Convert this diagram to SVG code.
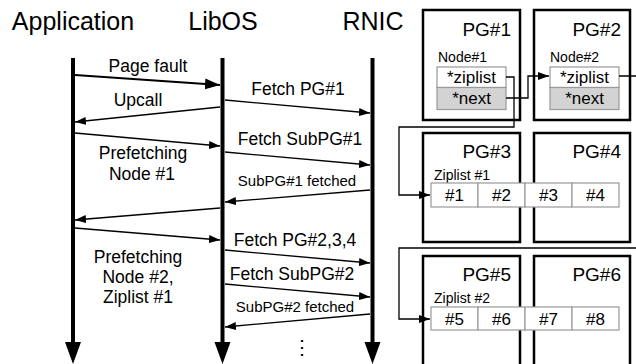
<svg xmlns="http://www.w3.org/2000/svg" width="636" height="364" viewBox="0 0 636 364">
  <style>
    text { font-family: "Liberation Sans", Arial, sans-serif; fill: #000; }
    .hdr { font-size: 25px; text-anchor: middle; }
    .lbl { font-size: 17.5px; text-anchor: middle; }
    .sml { font-size: 15px; text-anchor: middle; }
    .pg { font-size: 19px; text-anchor: end; }
    .cap { font-size: 14px; }
    .cell { font-size: 17px; text-anchor: middle; }
    .life { stroke: #000; stroke-width: 4; fill: none; }
    .msg { stroke: #000; stroke-width: 1.3; fill: none; marker-end: url(#ah); }
    .page { fill: #fff; stroke: #000; stroke-width: 2.5; }
    .box { fill: #fff; stroke: #999; stroke-width: 1.2; }
    .grey { fill: #d3d3d3; stroke: #999; stroke-width: 1.2; }
    .link { stroke: #000; stroke-width: 1.3; fill: none; }
  </style>
  <defs>
    <marker id="ah" markerUnits="userSpaceOnUse" markerWidth="12" markerHeight="10" refX="11" refY="4" orient="auto">
      <path d="M0,0 L11,4 L0,8 Z" fill="#000"/>
    </marker>
    <marker id="ahBig" markerUnits="userSpaceOnUse" markerWidth="16" markerHeight="12" refX="15" refY="5.5" orient="auto">
      <path d="M0,0 L15,5.5 L0,11 Z" fill="#000"/>
    </marker>
  </defs>

  <!-- actors -->
  <g id="application">
    <text class="hdr" x="73" y="30">Application</text>
    <line class="life" x1="73" y1="58" x2="73" y2="345"/>
    <polygon points="65,342 81,342 73,364" fill="#000"/>
  </g>
  <g id="libos">
    <text class="hdr" x="223" y="30">LibOS</text>
    <line class="life" x1="222.5" y1="58" x2="222.5" y2="345"/>
    <polygon points="214.5,342 230.5,342 222.5,364" fill="#000"/>
  </g>
  <g id="rnic">
    <text class="hdr" x="373" y="30">RNIC</text>
    <line class="life" x1="372.5" y1="58" x2="372.5" y2="345"/>
    <polygon points="364.5,342 380.5,342 372.5,364" fill="#000"/>
  </g>

  <!-- messages -->
  <g id="messages">
    <line x1="75" y1="75" x2="220" y2="85" stroke="#000" stroke-width="2.2" marker-end="url(#ahBig)"/>
    <line class="msg" x1="220" y1="107" x2="75" y2="122"/>
    <line class="msg" x1="225" y1="100" x2="370" y2="113"/>
    <line class="msg" x1="75" y1="133" x2="220" y2="146"/>
    <line class="msg" x1="225" y1="152" x2="370" y2="165"/>
    <line class="msg" x1="370" y1="190" x2="225" y2="202"/>
    <line class="msg" x1="220" y1="208" x2="75" y2="220"/>
    <line class="msg" x1="75" y1="228" x2="220" y2="240"/>
    <line class="msg" x1="225" y1="250" x2="370" y2="263"/>
    <line class="msg" x1="225" y1="284" x2="370" y2="297"/>
    <line class="msg" x1="370" y1="314" x2="225" y2="327"/>
  </g>

  <g id="message-labels">
    <text class="lbl" x="148" y="72">Page fault</text>
    <text class="lbl" x="138" y="106">Upcall</text>
    <text class="lbl" x="298" y="95">Fetch PG#1</text>
    <text class="lbl" x="300" y="145">Fetch SubPG#1</text>
    <text class="sml" x="297" y="186">SubPG#1 fetched</text>
    <text class="lbl" x="143" y="159">Prefetching</text>
    <text class="lbl" x="142" y="180">Node #1</text>
    <text class="lbl" x="295" y="246">Fetch PG#2,3,4</text>
    <text class="lbl" x="292" y="280">Fetch SubPG#2</text>
    <text class="sml" x="295" y="312">SubPG#2 fetched</text>
    <text class="lbl" x="138" y="263">Prefetching</text>
    <text class="lbl" x="138" y="283">Node #2,</text>
    <text class="lbl" x="138" y="303">Ziplist #1</text>
    <text x="302" y="354" font-family="DejaVu Sans, sans-serif" font-size="20" text-anchor="middle">⋮</text>
  </g>

  <!-- pages -->
  <g id="pg1">
    <rect class="page" x="423" y="10" width="97" height="110"/>
    <text class="pg" x="511" y="36">PG#1</text>
    <text class="cap" x="438" y="62">Node#1</text>
    <rect class="box" x="437" y="67" width="69" height="20.5"/>
    <rect class="grey" x="437" y="87.5" width="69" height="22"/>
    <text class="cell" x="471.5" y="83">*ziplist</text>
    <text class="cell" x="471.5" y="104">*next</text>
  </g>
  <g id="pg2">
    <rect class="page" x="534" y="10" width="96" height="110"/>
    <text class="pg" x="621" y="36">PG#2</text>
    <text class="cap" x="550" y="62">Node#2</text>
    <rect class="box" x="550" y="67" width="69" height="20.5"/>
    <rect class="grey" x="550" y="87.5" width="69" height="22"/>
    <text class="cell" x="584.5" y="83">*ziplist</text>
    <text class="cell" x="584.5" y="104">*next</text>
  </g>
  <g id="pg3">
    <rect class="page" x="423" y="133" width="97" height="109"/>
    <text class="pg" x="511" y="158">PG#3</text>
  </g>
  <g id="pg4">
    <rect class="page" x="534" y="133" width="96" height="109"/>
    <text class="pg" x="621" y="158">PG#4</text>
  </g>
  <g id="pg5">
    <rect class="page" x="423" y="256" width="97" height="130"/>
    <text class="pg" x="511" y="281">PG#5</text>
  </g>
  <g id="pg6">
    <rect class="page" x="534" y="256" width="96" height="130"/>
    <text class="pg" x="621" y="281">PG#6</text>
  </g>

  <!-- ziplists spanning two pages -->
  <g id="ziplist1">
    <text class="cap" x="434" y="180">Ziplist #1</text>
    <rect class="box" x="431" y="183" width="47" height="24"/>
    <rect class="box" x="478" y="183" width="47" height="24"/>
    <rect class="box" x="525" y="183" width="47" height="24"/>
    <rect class="box" x="572" y="183" width="47" height="24"/>
    <text class="cell" x="454.5" y="201">#1</text>
    <text class="cell" x="501.5" y="201">#2</text>
    <text class="cell" x="548.5" y="201">#3</text>
    <text class="cell" x="595.5" y="201">#4</text>
  </g>
  <g id="ziplist2">
    <text class="cap" x="434" y="303">Ziplist #2</text>
    <rect class="box" x="431" y="307" width="47" height="23"/>
    <rect class="box" x="478" y="307" width="47" height="23"/>
    <rect class="box" x="525" y="307" width="47" height="23"/>
    <rect class="box" x="572" y="307" width="47" height="23"/>
    <text class="cell" x="454.5" y="324.5">#5</text>
    <text class="cell" x="501.5" y="324.5">#6</text>
    <text class="cell" x="548.5" y="324.5">#7</text>
    <text class="cell" x="595.5" y="324.5">#8</text>
  </g>

  <!-- pointer connectors -->
  <g id="connectors">
    <path class="link" d="M506,77 H514 V127 H399 V195 H430" marker-end="url(#ah)"/>
    <path class="link" d="M506,98 H528 V76 H549" marker-end="url(#ah)"/>
    <path class="link" d="M619,76 H640 V248 H399 V319 H430" marker-end="url(#ah)"/>
  </g>
</svg>
